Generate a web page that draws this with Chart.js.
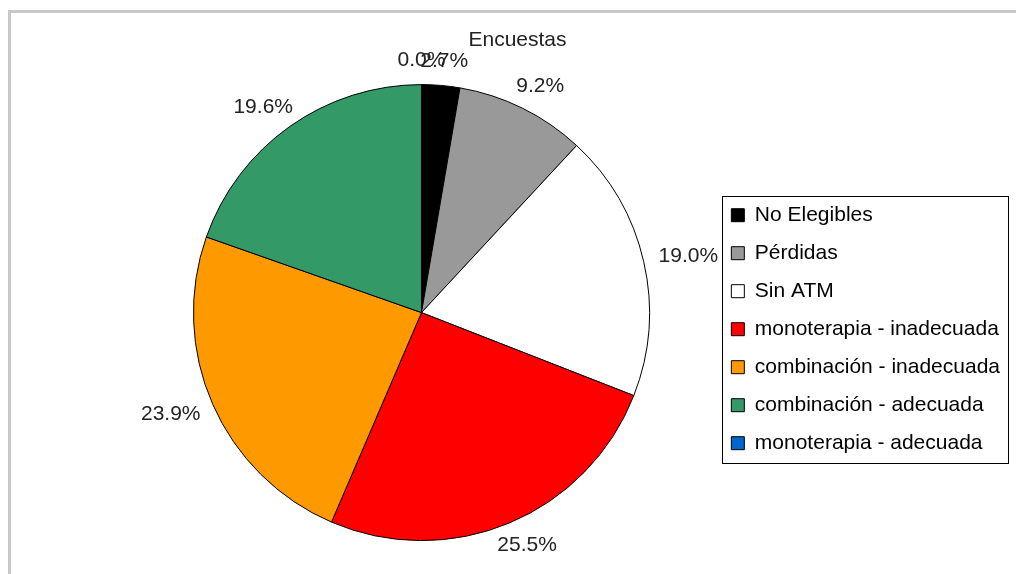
<!DOCTYPE html>
<html lang="es">
<head>
<meta charset="UTF-8">
<title>Encuestas</title>
<script src="https://cdn.jsdelivr.net/npm/chart.js"></script>
<style>
  html, body { margin: 0; padding: 0; background: #fff; }
  #frame {
    position: absolute; left: 8px; top: 10px;
    width: 1008px; height: 564px; box-sizing: border-box;
    border-top: 3px solid #c8c8c8; border-left: 3px solid #c8c8c8;
  }
  #wrap { position: relative; width: 1005px; height: 561px; }
</style>
</head>
<body>
<div id="frame"><div id="wrap"><canvas id="pieChart"></canvas></div></div>

<script>
const categories = [
  'No Elegibles',
  'Pérdidas',
  'Sin ATM',
  'monoterapia - inadecuada',
  'combinación - inadecuada',
  'combinación - adecuada',
  'monoterapia - adecuada'
];
const percents = [2.7, 9.2, 19.0, 25.5, 23.9, 19.6, 0.0];
const sliceColors = ['#000000', '#999999', '#ffffff', '#ff0000', '#ff9900', '#339966', '#0066cc'];

const FONT = '"Liberation Sans", Arial, sans-serif';

// percentage labels just outside each slice
const pctLabels = {
  id: 'pctLabels',
  afterDatasetsDraw(chart) {
    const ctx = chart.ctx;
    const meta = chart.getDatasetMeta(0);
    ctx.save();
    ctx.font = '21px ' + FONT;
    ctx.fillStyle = '#222';
    ctx.textAlign = 'center';
    ctx.textBaseline = 'middle';
    meta.data.forEach((arc, i) => {
      const mid = (arc.startAngle + arc.endAngle) / 2;
      const text = percents[i].toFixed(1) + '%';
      const w = ctx.measureText(text).width;
      const d = arc.outerRadius + 16;
      const x = arc.x + Math.cos(mid) * (d + w / 2);
      const y = arc.y + Math.sin(mid) * (d + 8);
      ctx.fillText(text, x, y);
    });
    ctx.restore();
  }
};

// black frame around the legend
const legendFrame = {
  id: 'legendFrame',
  afterDraw(chart) {
    const boxes = chart.legend.legendHitBoxes;
    if (!boxes || !boxes.length) return;
    let l = Infinity, t = Infinity, r = -Infinity, b = -Infinity;
    boxes.forEach(h => {
      l = Math.min(l, h.left); t = Math.min(t, h.top);
      r = Math.max(r, h.left + h.width); b = Math.max(b, h.top + h.height);
    });
    const ctx = chart.ctx;
    ctx.save();
    ctx.strokeStyle = '#000';
    ctx.lineWidth = 1;
    ctx.strokeRect(Math.round(l - 9) + 0.5, Math.round(t - 9) + 0.5,
                   Math.round(r - l + 17), Math.round(b - t + 18));
    ctx.restore();
  }
};

new Chart(document.getElementById('pieChart'), {
  type: 'pie',
  data: {
    labels: categories,
    datasets: [{
      data: percents,
      backgroundColor: sliceColors,
      borderColor: '#000',
      borderWidth: 1,
      radius: 228
    }]
  },
  options: {
    responsive: true,
    maintainAspectRatio: false,
    animation: false,
    layout: { padding: { left: 14, right: 6, top: 0, bottom: 2 } },
    plugins: {
      title: {
        display: true,
        text: 'Encuestas',
        color: '#222',
        font: { family: FONT, size: 21, weight: 'normal' },
        padding: { top: 15, bottom: 0 }
      },
      // empty spacer on the left so the pie sits where the original one does
      subtitle: {
        display: true,
        position: 'left',
        fullSize: false,
        text: '',
        font: { size: 10 },
        padding: { top: 91.6, bottom: 0 }
      },
      legend: {
        position: 'right',
        fullSize: false,
        align: 'center',
        maxWidth: 400,
        title: { display: true, text: '', font: { size: 1 }, padding: { top: 32, bottom: 0 } },
        labels: {
          boxWidth: 13,
          boxHeight: 13,
          padding: 17,
          color: '#000',
          font: { family: FONT, size: 21 }
        }
      },
      tooltip: { enabled: false }
    }
  },
  plugins: [pctLabels, legendFrame]
});
</script>
</body>
</html>
